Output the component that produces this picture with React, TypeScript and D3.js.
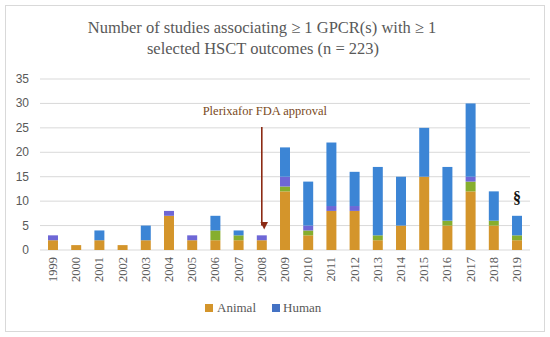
import * as d3 from "d3";

const years = ["1999","2000","2001","2002","2003","2004","2005","2006","2007","2008","2009","2010","2011","2012","2013","2014","2015","2016","2017","2018","2019"];
const animal = [2, 1, 2, 1, 2, 7, 2, 2, 2, 2, 12, 3, 8, 8, 2, 5, 15, 5, 12, 5, 2];
const overlapGreen = [0, 0, 0, 0, 0, 0, 0, 2, 1, 0, 1, 1, 0, 0, 1, 0, 0, 1, 2, 1, 1];
const overlapPurple = [1, 0, 0, 0, 0, 1, 1, 0, 0, 1, 2, 1, 1, 1, 0, 0, 0, 0, 1, 0, 0];
const human = [0, 0, 2, 0, 3, 0, 0, 3, 1, 0, 6, 9, 13, 7, 14, 10, 10, 11, 15, 6, 4];
const yTicks = [0, 5, 10, 15, 20, 25, 30, 35];

const W = 550, H = 337;
const margin = { left: 40, right: 20, top: 79, bottom: 87 };

export default function App() {
  const x = d3.scaleBand().domain(years).range([margin.left, W - margin.right]).paddingInner(0.57).paddingOuter(0.345);
  const y = d3.scaleLinear().domain([0, 35]).range([H - margin.bottom, margin.top]);

  const rows = years.map((yr, i) => ({
    yr,
    parts: [
      { v: animal[i], c: "#D4952B" },
      { v: overlapGreen[i], c: "#86AE2E" },
      { v: overlapPurple[i], c: "#6E67D6" },
      { v: human[i], c: "#3C85D5" },
    ],
  }));

  const arrowX = x("2008")! + x.bandwidth() / 2;

  return (
    <svg width={W} height={H} style={{ position: "absolute", left: 0, top: 0 }}>
      <defs>
        <marker id="ah" viewBox="0 0 10 10" refX="5" refY="8" markerWidth="5" markerHeight="5" orient="auto">
          <path d="M0,0 L10,5 L0,10 z" fill="#8B2A14" />
        </marker>
      </defs>
      <rect x={5.5} y={5.5} width={539} height={326} fill="#fff" stroke="#d9d9d9" />
      <text x={262} y={33} textAnchor="middle" fontFamily="Liberation Serif" fontSize={16.5} fill="#595959">
        Number of studies associating ≥ 1 GPCR(s) with ≥ 1
      </text>
      <text x={263} y={54} textAnchor="middle" fontFamily="Liberation Serif" fontSize={16.5} fill="#595959">
        selected HSCT outcomes (n = 223)
      </text>
      {yTicks.map(t => (
        <g key={t}>
          <line x1={margin.left} x2={W - margin.right} y1={y(t)} y2={y(t)} stroke="#d9d9d9" />
          <text x={29} y={y(t) + 4} textAnchor="end" fontFamily="Liberation Sans" fontSize={12} fill="#595959">{t}</text>
        </g>
      ))}
      {rows.map(r => {
        let acc = 0;
        return (
          <g key={r.yr}>
            {r.parts.map((p, j) => {
              const y0 = acc;
              acc += p.v;
              if (!p.v) return null;
              return <rect key={j} x={x(r.yr)} width={x.bandwidth()} y={y(acc)} height={y(y0) - y(acc)} fill={p.c} />;
            })}
            <text transform={`translate(${x(r.yr)! + x.bandwidth() / 2 + 4},${y(0) + 7}) rotate(-90)`} textAnchor="end"
              fontFamily="Liberation Serif" fontSize={12.5} fill="#595959">{r.yr}</text>
          </g>
        );
      })}
      <text x={arrowX + 3} y={115} textAnchor="middle" fontFamily="Liberation Serif" fontSize={12.5} fill="#7A4A22">
        Plerixafor FDA approval
      </text>
      <line x1={arrowX} x2={arrowX} y1={127} y2={y(5)} stroke="#8B2A14" strokeWidth={1.6} markerEnd="url(#ah)" />
      <text x={x("2019")! + x.bandwidth() / 2} y={y(9.6)} textAnchor="middle" fontFamily="Liberation Serif" fontWeight="bold" fontSize={16} fill="#111">§</text>
      <rect x={205} y={304} width={8} height={8} fill="#D4952B" />
      <text x={217} y={312} fontFamily="Liberation Serif" fontSize={13} fill="#595959">Animal</text>
      <rect x={272} y={304} width={8} height={8} fill="#4472C4" />
      <text x={283} y={312} fontFamily="Liberation Serif" fontSize={13} fill="#595959">Human</text>
    </svg>
  );
}
